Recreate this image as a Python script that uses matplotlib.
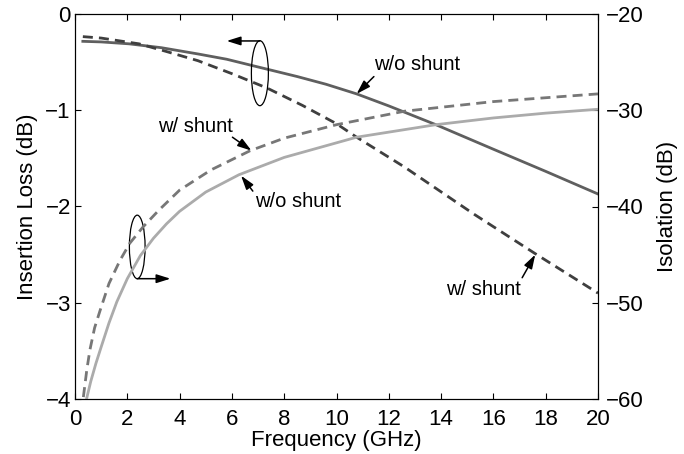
import matplotlib
matplotlib.use("Agg")
import matplotlib.pyplot as plt
from matplotlib.patches import Ellipse

plt.rcParams['font.family'] = ['Liberation Sans', 'DejaVu Sans']

# Insertion loss (left axis, dB)
freq_il_wo = [0.3, 1, 2.07, 3.3, 4.7, 5.8, 6.8, 8.5, 9.6, 10.77, 12, 13.8, 16, 18, 20]
il_wo_shunt = [-0.284, -0.29, -0.31, -0.35, -0.415, -0.47, -0.537, -0.65, -0.73, -0.83, -0.955, -1.15, -1.405, -1.635, -1.87]
freq_il_w = [0.3, 1, 2.45, 3.5, 4.7, 6, 7.35, 8.7, 10, 10.77, 12.6, 15.26, 17.6, 20]
il_w_shunt = [-0.235, -0.25, -0.31, -0.39, -0.485, -0.62, -0.77, -0.95, -1.14, -1.28, -1.59, -2.08, -2.49, -2.90]

# Isolation (right axis, dB)
freq_iso_wo = [0.45, 0.6, 0.8, 1.0, 1.3, 1.6, 2.0, 2.5, 3.0, 3.5, 4.0, 5.0, 6.27, 8, 10.77, 13.8, 16, 18, 20]
iso_wo_shunt = [-59.9, -58.2, -56.3, -54.6, -52.1, -49.9, -47.5, -45.1, -43.3, -41.8, -40.5, -38.5, -36.7, -34.9, -32.8, -31.5, -30.8, -30.3, -29.9]
freq_iso_w = [0.32, 0.45, 0.57, 0.75, 0.96, 1.3, 1.72, 2.1, 2.61, 3.2, 4.0, 5.2, 6.7, 8, 10, 12.6, 16, 20]
iso_w_shunt = [-59.8, -57.0, -54.9, -52.6, -50.8, -48.0, -45.6, -43.8, -42.1, -40.4, -38.3, -36.2, -34.2, -32.9, -31.5, -30.1, -29.1, -28.3]

x_ticks = list(range(0, 21, 2))
il_ticks = [-4, -3, -2, -1, 0]
iso_ticks = [-60, -50, -40, -30, -20]

fig = plt.figure(figsize=(6.84, 4.54), dpi=100)
ax = fig.add_axes([75/684, 1-399/454, (598-75)/684, (399-14)/454])
ax2 = ax.twinx()

lw = 2.0
dash = (0, (3.6, 2.2))
ax.plot(freq_il_wo, il_wo_shunt, color='#5f5f5f', lw=lw)
ax.plot(freq_il_w, il_w_shunt, color='#3f3f3f', lw=lw, ls=dash)
ax2.plot(freq_iso_wo, iso_wo_shunt, color='#ababab', lw=lw)
ax2.plot(freq_iso_w, iso_w_shunt, color='#777777', lw=lw, ls=dash)

ax.set_xlim(0, 20)
ax.set_ylim(-4, 0)
ax2.set_ylim(-60, -20)
ax.set_xticks(x_ticks)
ax.set_yticks(il_ticks)
ax2.set_yticks(iso_ticks)
ax.set_yticklabels(['\u22124', '\u22123', '\u22122', '\u22121', '0'])
ax2.set_yticklabels(['\u221260', '\u221250', '\u221240', '\u221230', '\u221220'])

fs = 16
ax.tick_params(axis='x', direction='in', top=True, labelsize=fs, length=4, pad=7)
ax.tick_params(axis='y', direction='in', right=False, labelsize=fs, length=4, pad=3)
ax2.tick_params(axis='y', direction='in', labelsize=fs, length=4, pad=6)
ax.set_xlabel('Frequency (GHz)', fontsize=fs, labelpad=0)
ax.set_ylabel('Insertion Loss (dB)', fontsize=fs, labelpad=5)
ax2.set_ylabel('Isolation (dB)', fontsize=fs, labelpad=9)
for a in (ax, ax2):
    for s in a.spines.values():
        s.set_linewidth(0.8)

# Annotations (in left-axis data coordinates)
afs = 14.5
arrowprops = dict(arrowstyle='-|>,head_length=0.7,head_width=0.22', color='black', lw=1.1,
                  mutation_scale=12, shrinkA=0, shrinkB=0)
ax.add_patch(Ellipse((7.07, -0.615), 0.65, 0.675, fill=False, lw=0.9, color='black', zorder=5))
ax.annotate('', xy=(5.8, -0.28), xytext=(7.07, -0.28), arrowprops=arrowprops)
ax.add_patch(Ellipse((2.38, -2.42), 0.6, 0.66, fill=False, lw=0.9, color='black', zorder=5))
ax.annotate('', xy=(3.65, -2.75), xytext=(2.38, -2.75), arrowprops=arrowprops)

ax.annotate('', xy=(10.77, -0.83), xytext=(11.43, -0.65), arrowprops=arrowprops)
ax.text(11.43, -0.52, 'w/o shunt', fontsize=afs, va='center', ha='left')
ax.annotate('', xy=(6.75, -1.42), xytext=(6.02, -1.28), arrowprops=arrowprops)
ax.text(3.17, -1.17, 'w/ shunt', fontsize=afs, va='center', ha='left')
ax.annotate('', xy=(6.35, -1.68), xytext=(6.8, -1.84), arrowprops=arrowprops)
ax.text(6.9, -1.95, 'w/o shunt', fontsize=afs, va='center', ha='left')
ax.annotate('', xy=(17.6, -2.50), xytext=(17.1, -2.74), arrowprops=arrowprops)
ax.text(14.2, -2.86, 'w/ shunt', fontsize=afs, va='center', ha='left')

fig.savefig('out.png', dpi=100)
